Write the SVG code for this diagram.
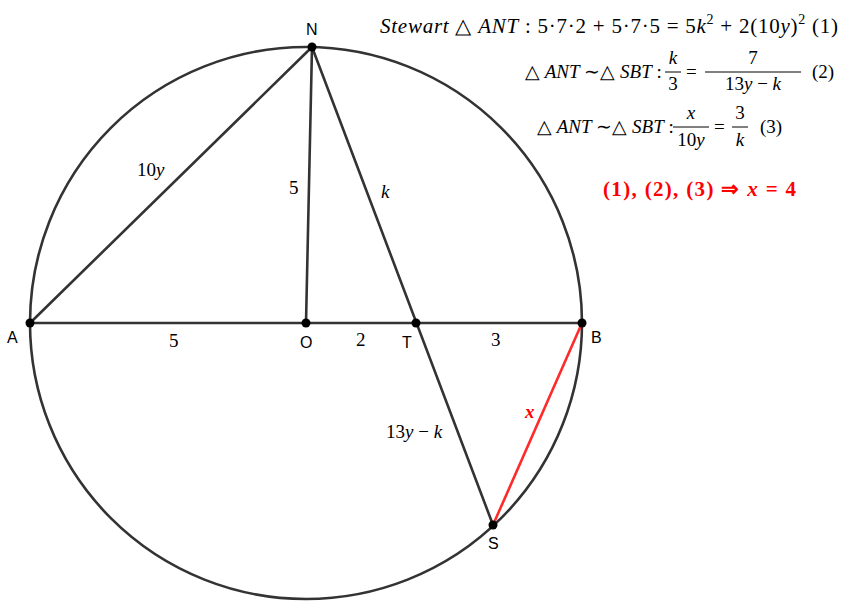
<svg xmlns="http://www.w3.org/2000/svg" width="850" height="609" viewBox="0 0 850 609">
<defs>
<circle id="dot" r="4.5" fill="#000"/>
</defs>
<g id="connectors" stroke="#333" stroke-width="2.6" fill="none" stroke-linecap="round">
<circle cx="306" cy="323" r="276"/>
<line x1="30" y1="323" x2="582" y2="323"/>
<line x1="30" y1="323" x2="312" y2="47"/>
<line x1="306" y1="323" x2="312" y2="47"/>
<line x1="312" y1="47" x2="493" y2="525"/>
<line stroke="#ff2a2a" x1="582" y1="323" x2="493" y2="525"/>
</g>
<g id="A"><use href="#dot" x="30" y="323"/><text font-family="Liberation Sans" font-size="16" x="7" y="343">A</text></g>
<g id="B"><use href="#dot" x="582" y="323"/><text font-family="Liberation Sans" font-size="16" x="591" y="343">B</text></g>
<g id="N"><use href="#dot" x="312" y="47"/><text font-family="Liberation Sans" font-size="16" x="306" y="35">N</text></g>
<g id="O"><use href="#dot" x="306" y="323"/><text font-family="Liberation Sans" font-size="16" x="300" y="348">O</text></g>
<g id="T"><use href="#dot" x="416" y="323"/><text font-family="Liberation Sans" font-size="16" x="402" y="348">T</text></g>
<g id="S"><use href="#dot" x="493" y="525"/><text font-family="Liberation Sans" font-size="16" x="488" y="549">S</text></g>
<g id="edge-labels">
<text font-family="Liberation Serif" font-size="19" x="137" y="176">10<tspan font-style="italic">y</tspan></text>
<text font-family="Liberation Serif" font-size="19" x="289" y="194">5</text>
<text font-family="Liberation Serif" font-size="19" font-style="italic" x="381" y="198">k</text>
<text font-family="Liberation Serif" font-size="19" x="169" y="347">5</text>
<text font-family="Liberation Serif" font-size="19" x="356" y="346">2</text>
<text font-family="Liberation Serif" font-size="19" x="491" y="346">3</text>
<text font-family="Liberation Serif" font-size="19" x="386" y="438">13<tspan font-style="italic">y</tspan> − <tspan font-style="italic">k</tspan></text>
<text font-family="Liberation Serif" font-size="19" font-style="italic" font-weight="bold" fill="#ff0000" x="525" y="418">x</text>
</g>
<g id="formulas">
<text font-family="Liberation Serif" font-size="21" x="380" y="33" textLength="458" lengthAdjust="spacing"><tspan font-style="italic">Stewart</tspan> △ <tspan font-style="italic">ANT</tspan> : 5·7·2 + 5·7·5 = 5<tspan font-style="italic">k</tspan><tspan font-size="14" dy="-9">2</tspan><tspan dy="9"> + 2(10</tspan><tspan font-style="italic">y</tspan>)<tspan font-size="14" dy="-9">2</tspan><tspan dy="9">  (1)</tspan></text>

<text font-family="Liberation Serif" font-size="19" x="525" y="78">△ <tspan font-style="italic">ANT</tspan> ∼△ <tspan font-style="italic">SBT</tspan> :</text>
<text font-family="Liberation Serif" font-size="19" font-style="italic" x="673" y="64" text-anchor="middle">k</text>
<line stroke="#000" x1="665" y1="72" x2="681" y2="72"/>
<text font-family="Liberation Serif" font-size="19" x="673" y="90" text-anchor="middle">3</text>
<text font-family="Liberation Serif" font-size="19" x="686" y="78">=</text>
<text font-family="Liberation Serif" font-size="19" x="753" y="64" text-anchor="middle">7</text>
<line stroke="#000" x1="705" y1="72" x2="801" y2="72"/>
<text font-family="Liberation Serif" font-size="19" x="753" y="90" text-anchor="middle">13<tspan font-style="italic">y</tspan> − <tspan font-style="italic">k</tspan></text>
<text font-family="Liberation Serif" font-size="19" x="812" y="78">(2)</text>

<text font-family="Liberation Serif" font-size="19" x="537" y="133">△ <tspan font-style="italic">ANT</tspan> ∼△ <tspan font-style="italic">SBT</tspan> :</text>
<text font-family="Liberation Serif" font-size="19" font-style="italic" x="691" y="119" text-anchor="middle">x</text>
<line stroke="#000" x1="673" y1="127" x2="709" y2="127"/>
<text font-family="Liberation Serif" font-size="19" x="691" y="146" text-anchor="middle">10<tspan font-style="italic">y</tspan></text>
<text font-family="Liberation Serif" font-size="19" x="714" y="133">=</text>
<text font-family="Liberation Serif" font-size="19" x="740" y="119" text-anchor="middle">3</text>
<line stroke="#000" x1="732" y1="127" x2="748" y2="127"/>
<text font-family="Liberation Serif" font-size="19" font-style="italic" x="740" y="146" text-anchor="middle">k</text>
<text font-family="Liberation Serif" font-size="19" x="760" y="133">(3)</text>

<text font-family="Liberation Serif" font-size="21" font-weight="bold" fill="#ff0000" x="603" y="196" textLength="193" lengthAdjust="spacing">(1), (2), (3) ⇒ <tspan font-style="italic">x</tspan> = 4</text>
</g>
</svg>
